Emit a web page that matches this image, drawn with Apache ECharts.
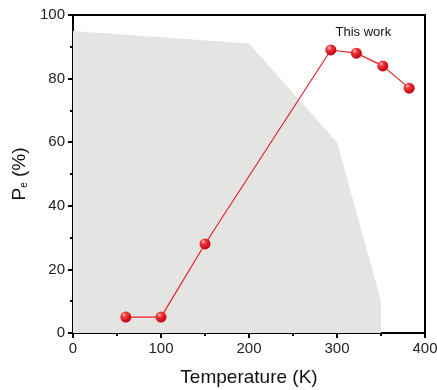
<!DOCTYPE html>
<html>
<head>
<meta charset="utf-8">
<script src="https://cdn.jsdelivr.net/npm/echarts@6/dist/echarts.min.js"></script>
<style>
  html, body { margin: 0; padding: 0; background: #fff; }
  #chart { width: 437px; height: 390px; }
</style>
</head>
<body>
<div id="chart"></div>
<script>
// measured points of "This work"
const temps = [60, 100, 150, 293, 322, 352, 382];
const pe = [5, 5, 28, 89, 88, 84, 77];
// grey region (previous reports)
const areaT = [0, 200, 300, 350, 350];
const areaP = [95, 91, 60, 10, 0];
const xTicks = [0, 100, 200, 300, 400];
const yTicks = [0, 20, 40, 60, 80, 100];

const chart = echarts.init(document.getElementById('chart'));
const font = 'Liberation Sans, Arial, sans-serif';
const red = '#e8202a';

const ballColor = new echarts.graphic.RadialGradient(0.35, 0.3, 0.7, [
    { offset: 0, color: '#ffd0d0' },
    { offset: 0.3, color: '#f23a3a' },
    { offset: 1, color: '#c00010' }
]);

const axisCommon = {
    type: 'value',
    axisLine: { show: true, onZero: false, lineStyle: { color: '#000', width: 2 } },
    axisTick: { show: true, inside: false, length: 5, lineStyle: { color: '#000', width: 2 } },
    minorTick: { show: true, splitNumber: 2, length: 3, lineStyle: { color: '#000', width: 2 } },
    splitLine: { show: false },
    axisLabel: { color: '#222', fontSize: 15, fontFamily: font },
    nameTextStyle: { color: '#111', fontSize: 19, fontFamily: font }
};

const option = {
    animation: false,
    textStyle: { fontFamily: font },
    grid: {
        left: 73, right: 12, top: 15, bottom: 57,
        outerBoundsMode: 'none',
        show: true, borderColor: '#000', borderWidth: 2
    },
    xAxis: {
        ...axisCommon,
        min: xTicks[0], max: xTicks[xTicks.length - 1], interval: 100,
        name: 'Temperature (K)',
        nameLocation: 'middle',
        nameGap: 35
    },
    yAxis: {
        ...axisCommon,
        min: yTicks[0], max: yTicks[yTicks.length - 1], interval: 20,
        name: '{a|P}{s|e}{a| (%)}',
        nameLocation: 'middle',
        nameRotate: 90,
        nameGap: 40,
        nameTextStyle: {
            rich: {
                a: { fontSize: 19, color: '#111', fontFamily: font },
                s: { fontSize: 10, color: '#111', fontFamily: font, verticalAlign: 'bottom', padding: [8, 0, 0, 0] }
            }
        }
    },
    series: [
        {
            type: 'line',
            data: areaT.map((t, i) => [t, areaP[i]]),
            symbol: 'none',
            lineStyle: { width: 0 },
            areaStyle: { color: '#e4e4e3', opacity: 1, origin: 'start' },
            silent: true,
            z: 1
        },
        {
            type: 'line',
            data: temps.map((t, i) => [t, pe[i]]),
            symbol: 'circle',
            symbolSize: 11,
            lineStyle: { color: red, width: 1.2 },
            itemStyle: { color: ballColor },
            label: {
                show: true,
                formatter: (p) => (p.dataIndex === 4 ? 'This work' : ''),
                position: 'top',
                offset: [7, -4],
                color: '#111',
                fontSize: 13,
                fontFamily: font
            },
            z: 3
        }
    ]
};

chart.setOption(option);
</script>
</body>
</html>
